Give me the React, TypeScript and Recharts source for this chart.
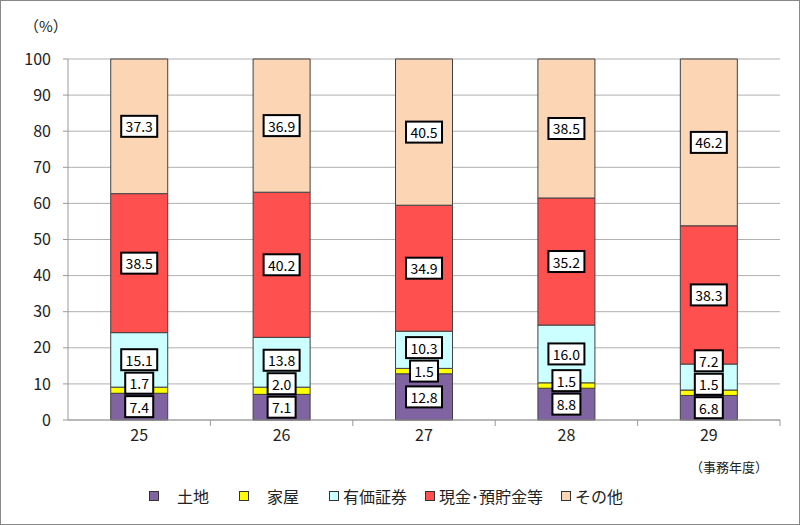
import React from 'react';
import { BarChart, Bar, XAxis, YAxis, CartesianGrid, LabelList } from 'recharts';

const years = ['25', '26', '27', '28', '29'];
const seriesNames = ['土地', '家屋', '有価証券', '現金･預貯金等', 'その他'];
const land = [7.4, 7.1, 12.8, 8.8, 6.8];
const house = [1.7, 2.0, 1.5, 1.5, 1.5];
const securities = [15.1, 13.8, 10.3, 16.0, 7.2];
const cash = [38.5, 40.2, 34.9, 35.2, 38.3];
const other = [37.3, 36.9, 40.5, 38.5, 46.2];
const yTicks = [0, 10, 20, 30, 40, 50, 60, 70, 80, 90, 100];

const colors = ['#8064A2', '#FFFF00', '#CCFFFF', '#FF5050', '#FCD5B5'];
const keys = ['land', 'house', 'securities', 'cash', 'other'];
const allSeries = [land, house, securities, cash, other];

const data = years.map((y, i) => ({
  year: y,
  land: land[i],
  house: house[i],
  securities: securities[i],
  cash: cash[i],
  other: other[i],
}));

const FONT = '"Noto Sans CJK JP", "Noto Sans", sans-serif';
const MIN_GAP = 6.5; // label spacing, in value units

// label centres (value units), pushed up so boxes don't overlap
const labelPos = years.map((_, i) => {
  let start = 0;
  let prev = -Infinity;
  return allSeries.map((s) => {
    const centre = start + s[i] / 2;
    const pos = Math.max(centre, prev + MIN_GAP);
    start += s[i];
    prev = pos;
    return pos;
  });
});

const makeLabel = (si: number) => (props: any) => {
  const { x, y, width, height, value, index } = props;
  if (value == null || !height) return null;
  const start = allSeries.slice(0, si).reduce((a, s) => a + s[index], 0);
  const pxPerUnit = height / value;
  const bottom = y + height;
  const cy = bottom - (labelPos[index][si] - start) * pxPerUnit;
  const text = Number(value).toFixed(1);
  const digits = text.replace('.', '').length;
  const w = digits * 8 + 12;
  const h = 21;
  const cx = x + width / 2;
  return (
    <g>
      <rect x={cx - w / 2} y={cy - h / 2} width={w} height={h} fill="#fff" stroke="#000" strokeWidth={2} />
      <text x={cx} y={cy} textAnchor="middle" dominantBaseline="central" fontSize={14} fill="#000" fontFamily={FONT}>
        {text}
      </text>
    </g>
  );
};

const XTick = (props: any) => {
  const { x, y, payload } = props;
  const band = 712 / years.length;
  return (
    <g>
      <line x1={x + band / 2} y1={y - 8} x2={x + band / 2} y2={y - 2} stroke="#999" />
      <text x={x} y={y + 13} textAnchor="middle" fontSize={16} fill="#222" fontFamily={FONT}>
        {payload.value}
      </text>
    </g>
  );
};

const App = () => {
  return (
    <div style={{ position: 'relative', width: 800, height: 525, fontFamily: FONT }}>
      <style>{'body{margin:0}'}</style>
      <div
        style={{
          position: 'absolute',
          left: 0,
          top: 0,
          width: 798,
          height: 523,
          border: '1px solid #888',
          boxSizing: 'content-box',
        }}
      />
      <BarChart
        width={800}
        height={525}
        data={data}
        margin={{ top: 59, right: 20, bottom: 75, left: 0 }}
        barCategoryGap="30%"
      >
        <CartesianGrid vertical={false} stroke="#b0b0b0" />
        <XAxis
          dataKey="year"
          axisLine={{ stroke: '#999' }}
          tickLine={false}
          tick={<XTick />}
          height={30}
          interval={0}
        />
        <YAxis
          type="number"
          domain={[0, 100]}
          ticks={yTicks}
          width={68}
          axisLine={{ stroke: '#999' }}
          tickLine={{ stroke: '#999' }}
          tickSize={5}
          tickMargin={12}
          tick={{ fontSize: 16, fill: '#222', fontFamily: FONT }}
        />
        {keys.map((k, si) => (
          <Bar
            key={k}
            dataKey={k}
            name={seriesNames[si]}
            stackId="a"
            fill={colors[si]}
            stroke="#404040"
            strokeWidth={1}
            isAnimationActive={false}
          >
            <LabelList dataKey={k} content={makeLabel(si)} />
          </Bar>
        ))}
      </BarChart>
      <div style={{ position: 'absolute', left: 24, top: 15, fontSize: 15, color: '#222' }}>（%）</div>
      <div style={{ position: 'absolute', left: 690, top: 457, fontSize: 13, color: '#222' }}>（事務年度）</div>
      <div
        style={{
          position: 'absolute',
          left: 149,
          top: 484,
          display: 'flex',
          alignItems: 'center',
          fontSize: 16,
          color: '#222',
        }}
      >
        {seriesNames.map((n, si) => (
          <div key={n} style={{ display: 'flex', alignItems: 'center', marginRight: si < 2 ? 30 : 18 }}>
            <span
              style={{
                display: 'inline-block',
                width: 8,
                height: 8,
                background: colors[si],
                border: '1px solid #333',
                marginRight: si < 2 ? 18 : 4,
              }}
            />
            <span>{n}</span>
          </div>
        ))}
      </div>
    </div>
  );
};

export default App;
